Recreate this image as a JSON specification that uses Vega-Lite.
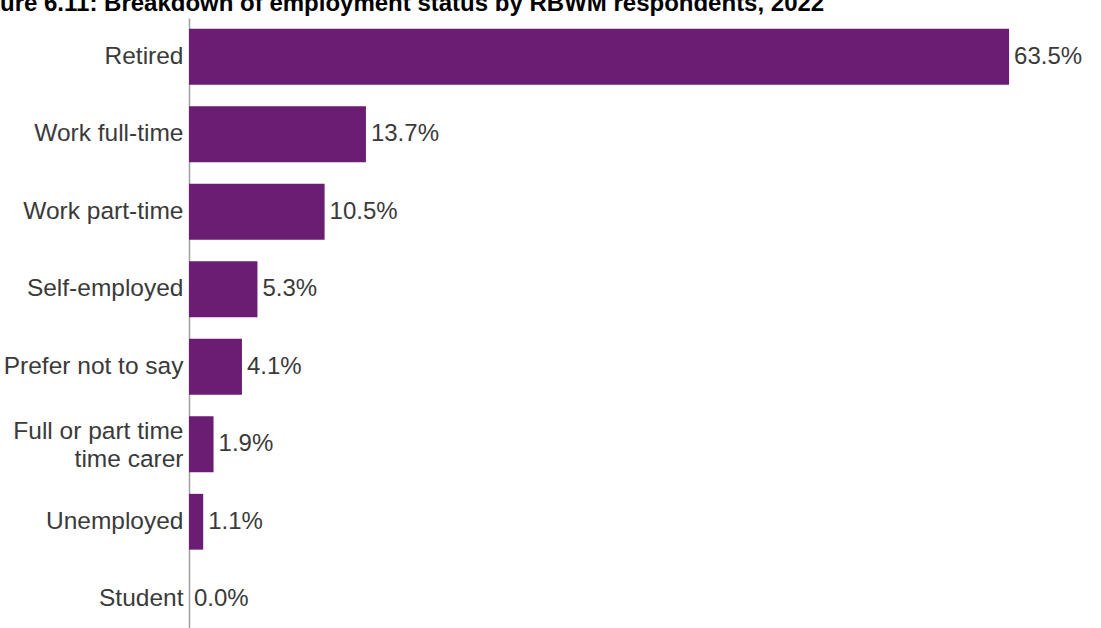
{
  "$schema": "https://vega.github.io/schema/vega-lite/v6.json",
  "autosize": {"type": "none"},
  "padding": {"left": 189, "top": 18, "right": 0, "bottom": 0},
  "width": 904,
  "height": 620,
  "background": "white",
  "title": {
    "text": "Figure 6.11: Breakdown of employment status by RBWM respondents, 2022",
    "anchor": "start",
    "frame": "group",
    "dx": -225,
    "dy": 24,
    "offset": 7,
    "baseline": "alphabetic",
    "font": "Liberation Sans",
    "fontSize": 24,
    "fontWeight": "bold",
    "color": "#000000"
  },
  "config": {
    "view": {"stroke": null},
    "font": "Liberation Sans"
  },
  "data": {
    "values": [
      {"status": "Retired", "pct": 0.635},
      {"status": "Work full-time", "pct": 0.137},
      {"status": "Work part-time", "pct": 0.105},
      {"status": "Self-employed", "pct": 0.053},
      {"status": "Prefer not to say", "pct": 0.041},
      {"status": "Full or part time|time carer", "pct": 0.019},
      {"status": "Unemployed", "pct": 0.011},
      {"status": "Student", "pct": 0.0}
    ]
  },
  "encoding": {
    "y": {
      "field": "status",
      "type": "nominal",
      "sort": null,
      "scale": {"paddingInner": 0.28, "paddingOuter": 0.14},
      "axis": {
        "title": null,
        "ticks": false,
        "labelPadding": 6,
        "labelFont": "Liberation Sans",
        "labelFontSize": 24.5,
        "labelColor": "#3a3a3a",
        "labelLineHeight": 28,
        "labelExpr": "split(datum.label, '|')",
        "labelOffset": {"condition": {"test": "indexof(datum.value, '|') >= 0", "value": -12}, "value": 0},
        "domainColor": "#a0a0a0",
        "domainWidth": 1.5,
        "labelLimit": 400
      }
    },
    "x": {
      "field": "pct",
      "type": "quantitative",
      "scale": {"domain": [0, 0.7], "nice": false},
      "axis": null
    }
  },
  "layer": [
    {"mark": {"type": "bar", "color": "#6a1d72"}},
    {
      "mark": {"type": "text", "align": "left", "baseline": "middle", "dx": 5, "font": "Liberation Sans", "fontSize": 24, "color": "#3a3a3a"},
      "encoding": {"text": {"field": "pct", "type": "quantitative", "format": ".1%"}}
    }
  ]
}
